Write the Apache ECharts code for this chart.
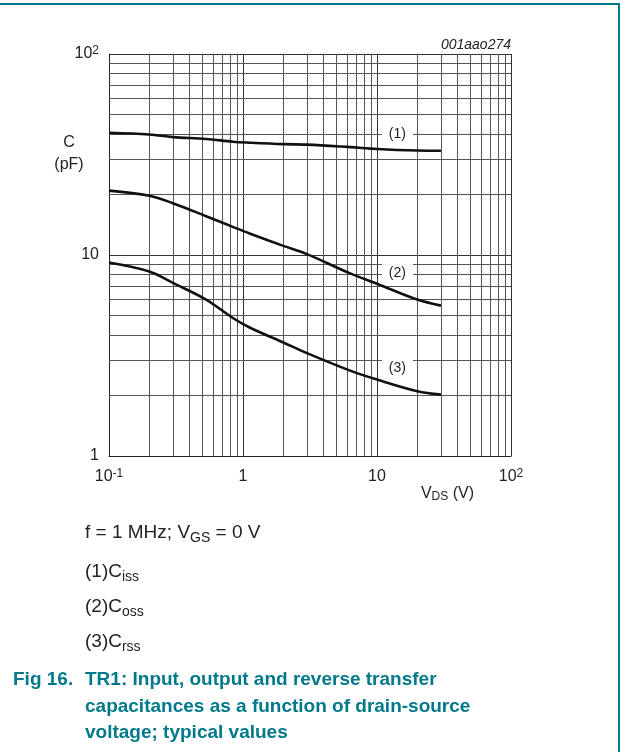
<!DOCTYPE html>
<html>
<head>
<meta charset="utf-8">
<script src="https://cdn.jsdelivr.net/npm/echarts@6/dist/echarts.min.js"></script>
<style>
html,body{margin:0;padding:0;background:#fff;}
#chart{width:621px;height:752px;}
</style>
</head>
<body>
<div id="chart"></div>
<script>
// ---- data ----
var vds  = [0.1, 0.2, 0.3, 0.53, 0.84, 1.12, 2, 3, 6.3, 10, 20, 30];
var ciss = [40.6, 39.8, 38.6, 37.8, 36.6, 36.2, 35.6, 35.4, 34.4, 33.7, 33.1, 33.0];
var coss = [20.9, 19.7, 18.1, 15.6, 13.8, 12.8, 11.1, 10.1, 8.1, 7.2, 6.0, 5.6];
var crss = [9.18, 8.28, 7.26, 6.0, 4.86, 4.36, 3.67, 3.25, 2.66, 2.40, 2.10, 2.02];

var curveLabelX = [14.2, 14.2, 14.2];
var curveLabelY = [39.8, 8.13, 2.74];
var curveLabelText = ['(1)', '(2)', '(3)'];

var xMinorGrid = [0.2,0.3,0.4,0.5,0.6,0.7,0.8,0.9, 2,3,4,5,6,7,8,9, 20,30,40,50,60,70,80,90];
var yMinorGrid = [2,3,4,5,6,7,8,9, 20,30,40,50,60,70,80,90];

function pairs(xs, ys){ return xs.map(function(x,i){ return [x, ys[i]]; }); }

var FONT = 'Liberation Sans, Arial, Helvetica, sans-serif';
var GRIDC = '#555';

function expLabel(v){
  var e = Math.round(Math.log10(v));
  if (e === 0) return '{b|1}';
  if (e === 1) return '{b|10}';
  return '{b|10}{s|' + e + '}';
}
var tickRich = {
  b: {fontSize: 16, lineHeight: 18, fontFamily: FONT, color: '#222'},
  s: {fontSize: 12, lineHeight: 8, verticalAlign: 'top', fontFamily: FONT, color: '#222'}
};

var chart = echarts.init(document.getElementById('chart'), null, {renderer: 'canvas'});
var option = {
  animation: false,
  backgroundColor: '#fff',
  grid: {left: 109, right: 110, top: 54, bottom: 296, containLabel: false},
  xAxis: {
    type: 'log', logBase: 10, min: 0.1, max: 100,
    axisLine: {show: true, lineStyle: {color: '#222', width: 1}},
    axisTick: {show: false},
    splitLine: {show: true, lineStyle: {color: '#333', width: 1}},
    axisLabel: {margin: 12, formatter: expLabel, rich: tickRich},
    name: 'V{n|DS} (V)',
    nameLocation: 'end',
    nameGap: -37,
    nameTextStyle: {
      align: 'right', verticalAlign: 'top', padding: [29, 0, 0, 0],
      fontSize: 16, fontFamily: FONT, color: '#222', lineHeight: 18,
      rich: {
        n: {fontSize: 12, lineHeight: 12, verticalAlign: 'bottom', fontFamily: FONT, color: '#222'}
      }
    }
  },
  yAxis: {
    type: 'log', logBase: 10, min: 1, max: 100,
    axisLine: {show: true, lineStyle: {color: '#222', width: 1}},
    axisTick: {show: false},
    splitLine: {show: true, lineStyle: {color: '#333', width: 1}},
    axisLabel: {margin: 10, formatter: expLabel, rich: tickRich},
    name: 'C\n(pF)',
    nameLocation: 'end',
    nameGap: -100,
    nameTextStyle: {
      align: 'center', verticalAlign: 'middle', padding: [0, 80, 0, 0],
      fontSize: 16, lineHeight: 22, fontFamily: FONT, color: '#222'
    }
  },
  title: [
    {text: '001aao274', right: 110, top: 37, padding: 0,
     textStyle: {fontSize: 14, fontStyle: 'italic', fontWeight: 'normal', fontFamily: FONT, color: '#222', lineHeight: 16}},
    {text: 'f = 1 MHz; V{s|GS} = 0 V', left: 85, top: 521, padding: 0,
     textStyle: {fontSize: 19, fontWeight: 'normal', fontFamily: FONT, color: '#222', lineHeight: 24,
       rich: {s: {fontSize: 14, lineHeight: 18, verticalAlign: 'bottom', fontFamily: FONT, color: '#222'}}}},
    {text: '(1)C{s|iss}', left: 85, top: 560, padding: 0,
     textStyle: {fontSize: 19, fontWeight: 'normal', fontFamily: FONT, color: '#222', lineHeight: 24,
       rich: {s: {fontSize: 14, lineHeight: 17, verticalAlign: 'bottom', fontFamily: FONT, color: '#222'}}}},
    {text: '(2)C{s|oss}', left: 85, top: 595, padding: 0,
     textStyle: {fontSize: 19, fontWeight: 'normal', fontFamily: FONT, color: '#222', lineHeight: 24,
       rich: {s: {fontSize: 14, lineHeight: 17, verticalAlign: 'bottom', fontFamily: FONT, color: '#222'}}}},
    {text: '(3)C{s|rss}', left: 85, top: 630, padding: 0,
     textStyle: {fontSize: 19, fontWeight: 'normal', fontFamily: FONT, color: '#222', lineHeight: 24,
       rich: {s: {fontSize: 14, lineHeight: 17, verticalAlign: 'bottom', fontFamily: FONT, color: '#222'}}}},
    {text: 'Fig 16.', left: 13, top: 667, padding: 0,
     textStyle: {fontSize: 19, fontWeight: 'bold', fontFamily: FONT, color: '#00798a', lineHeight: 26.5}},
    {text: 'TR1: Input, output and reverse transfer\ncapacitances as a function of drain-source\nvoltage; typical values',
     left: 85, top: 667, padding: 0,
     textStyle: {fontSize: 19, fontWeight: 'bold', fontFamily: FONT, color: '#00798a', lineHeight: 26.5}}
  ],
  graphic: [
    {type: 'line', shape: {x1: 0, y1: 4, x2: 619, y2: 4}, style: {stroke: '#00798a', lineWidth: 2}},
    {type: 'line', shape: {x1: 619, y1: 3, x2: 619, y2: 752}, style: {stroke: '#00798a', lineWidth: 2}}
  ],
  series: [
    {
      name: 'grid', type: 'line', data: [], z: 1, silent: true,
      markLine: {
        silent: true, symbol: ['none', 'none'], animation: false,
        label: {show: false},
        lineStyle: {color: GRIDC, width: 1, type: 'solid'},
        emphasis: {disabled: true},
        data: xMinorGrid.map(function(v){ return {xAxis: v}; })
          .concat(yMinorGrid.map(function(v){ return {yAxis: v}; }))
      }
    },
    {name: 'Ciss', type: 'line', data: pairs(vds, ciss), smooth: 0.35, symbol: 'none', z: 5,
     lineStyle: {color: '#111', width: 2.6}},
    {name: 'Coss', type: 'line', data: pairs(vds, coss), smooth: 0.35, symbol: 'none', z: 5,
     lineStyle: {color: '#111', width: 2.6}},
    {name: 'Crss', type: 'line', data: pairs(vds, crss), smooth: 0.35, symbol: 'none', z: 5,
     lineStyle: {color: '#111', width: 2.6}},
    {name: 'labels', type: 'scatter', z: 10, symbol: 'rect', symbolSize: 1,
     itemStyle: {color: 'rgba(0,0,0,0)'}, silent: true,
     data: curveLabelX.map(function(x, i){ return {value: [x, curveLabelY[i]], name: curveLabelText[i]}; }),
     label: {show: true, position: 'inside', formatter: function(p){ return p.name; },
       fontSize: 14, fontFamily: FONT, color: '#222', opacity: 1, backgroundColor: '#fff', padding: [2, 7]}}
  ]
};
chart.setOption(option);
</script>
</body>
</html>
